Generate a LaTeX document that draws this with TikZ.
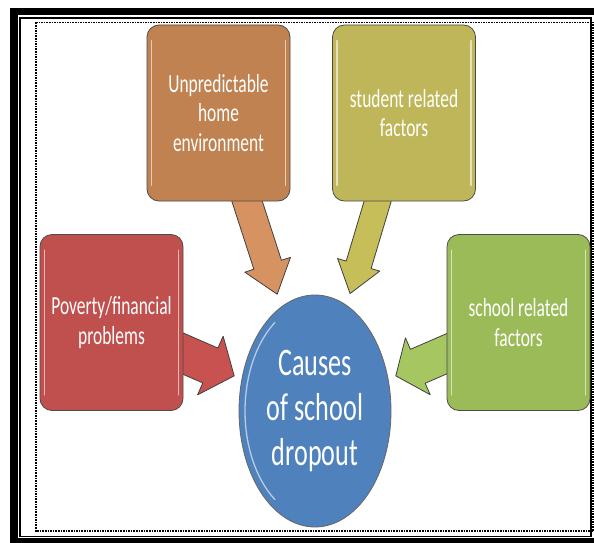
\documentclass[tikz,border=0pt]{standalone}
\usepackage{fontspec}
\setmainfont{Carlito}
\newfontfamily\boxfont[FakeStretch=0.67]{Carlito}
\usetikzlibrary{calc,shapes.geometric}
\pgfdeclarelayer{bg}
\pgfsetlayers{bg,main}

\definecolor{cOrange}{RGB}{192,130,80}
\definecolor{cYellow}{RGB}{191,182,89}
\definecolor{cRed}{RGB}{192,80,77}
\definecolor{cGreen}{RGB}{155,187,89}
\definecolor{cBlue}{RGB}{79,129,189}
\definecolor{aOrange}{RGB}{214,146,96}
\definecolor{aYellow}{RGB}{198,190,88}
\definecolor{aRed}{RGB}{200,82,80}
\definecolor{aGreen}{RGB}{165,198,96}

\tikzset{
  box/.style={draw=black!70, line width=0.8pt, rounded corners=12pt,
    minimum width=143pt, minimum height=176pt, inner sep=0pt,
    text=white, align=center, font={\boxfont\fontsize{26pt}{29.5pt}\selectfont}},
  hub/.style={ellipse, draw=black!60, line width=0.8pt, fill=cBlue,
    minimum width=152pt, minimum height=232pt, inner sep=0pt,
    text=white, align=center, font={\boxfont\fontsize{39pt}{45pt}\selectfont}},
  hl/.style={white, opacity=0.6, line width=1.3pt, line cap=round},
  arrowstyle/.style={draw=black!75, line width=0.8pt, line join=round}
}

% #1 box node, #2 target node, #3 gap, #4 half shaft, #5 half head, #6 head length, #7 colour
\newcommand\blockarrow[7]{%
  \path (#1.center) -- (#2) coordinate[pos=1] (#1-b);
  \coordinate (#1-t) at ($(#1-b)!#3!(#1.center)$);
  \coordinate (#1-h) at ($(#1-t)!#6!(#1.center)$);
  \filldraw[arrowstyle, fill=#7]
    ($(#1.center)!#4!90:(#1-t)$) -- ($(#1-h)!#4!-90:(#1.center)$)
    -- ($(#1-h)!#5!-90:(#1.center)$) -- (#1-t)
    -- ($(#1-h)!#5!90:(#1.center)$) -- ($(#1-h)!#4!90:(#1.center)$)
    -- ($(#1.center)!#4!-90:(#1-t)$) -- cycle;
}

\begin{document}
\begin{tikzpicture}[x=1pt,y=-1pt]
\clip (0,0) rectangle (594,543);

% frame
\draw[line width=7.5pt] (14.2,11.5) rectangle (598,541.5);
\draw[line width=1.8pt] (20.3,17.9) rectangle (591.3,536.4);
\draw[line width=1.6pt, dash pattern=on 1.6pt off 1pt] (36,22.5) rectangle (593,531);

% hub and boxes
\node[hub] (cause) at (315,411) {Causes\\of school\\dropout};
\node[box, fill=cOrange] (org) at (218.5,113) {Unpredictable\\home\\environment};
\node[box, fill=cYellow] (yel) at (404,113) {student related\\factors};
\node[box, fill=cRed] (red) at (111.5,322.5) {Poverty/financial\\problems};
\node[box, fill=cGreen] (grn) at (518.5,322.5) {school related\\factors};

% highlights
\foreach \b in {org,yel,red,grn}{
  \draw[hl] ($(\b.north west)+(5,16)$) -- ($(\b.south west)+(5,-16)$);
  \draw[hl] ($(\b.north east)+(-5,16)$) -- ($(\b.south east)+(-5,-16)$);
}
\draw[hl] ($(cause.center)+(125:70 and 108)$) arc[start angle=125, end angle=235, x radius=70, y radius=108];

% arrows behind
\begin{pgfonlayer}{bg}
\fill[white] (0,0) rectangle (594,543);
\blockarrow{org}{cause}{13pt}{14.5pt}{24pt}{31pt}{aOrange}
\blockarrow{yel}{cause}{12pt}{13pt}{22pt}{30pt}{aYellow}
\blockarrow{red}{cause}{8pt}{19pt}{32pt}{26pt}{aRed}
\blockarrow{grn}{cause}{8pt}{18.5pt}{31pt}{24pt}{aGreen}
\end{pgfonlayer}
\end{tikzpicture}
\end{document}
